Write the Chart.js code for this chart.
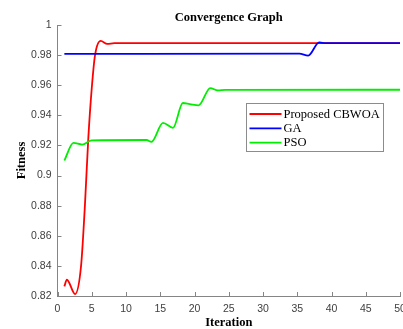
<!DOCTYPE html>
<html>
<head>
<meta charset="utf-8">
<script src="https://cdn.jsdelivr.net/npm/chart.js@4.4.1/dist/chart.umd.min.js"></script>
<style>
  html, body { margin: 0; padding: 0; background: #fff; }
  #wrap { width: 403px; height: 329px; }
</style>
</head>
<body>
<div id="wrap"><canvas id="convChart" width="403" height="329"></canvas></div>
<script>
// values (iteration, fitness)
const seriesNames = ["Proposed CBWOA", "GA", "PSO"];
const seriesColors = ["#ff0000", "#0000ff", "#00ee00"];

const cbwoaIter = [1, 1.37, 2.57, 3.44, 4.0, 4.5, 5.0, 5.48, 6.31, 7.27, 8.3, 50];
const cbwoaFit = [0.8264, 0.8308, 0.8213, 0.840, 0.880, 0.925, 0.958, 0.980, 0.9894, 0.9874, 0.9879, 0.9879];

const gaIter = [1, 35.3, 36.6, 38.2, 39.2, 50];
const gaFit = [0.9808, 0.9810, 0.9797, 0.9884, 0.9879, 0.9879];

const psoIter = [1, 2.33, 3.6, 5.0, 13.0, 13.72, 15.4, 16.86, 18.3, 19.3, 20.6, 22.3, 23.4, 24.5, 50];
const psoFit = [0.910, 0.9217, 0.9206, 0.9234, 0.9236, 0.9224, 0.935, 0.9317, 0.9482, 0.9475, 0.9466, 0.9581, 0.9566, 0.9569, 0.957];

const xTicks = [0, 5, 10, 15, 20, 25, 30, 35, 40, 45, 50];
const yTicks = [0.82, 0.84, 0.86, 0.88, 0.9, 0.92, 0.94, 0.96, 0.98, 1];

const axisColor = "#858585";
const labelColor = "#404040";

function toPoints(xs, ys) {
  return xs.map((x, i) => ({ x: x, y: ys[i] }));
}

// MATLAB style ticks pointing into the plot
const inwardTicks = {
  id: "inwardTicks",
  afterDraw(chart) {
    const { ctx, chartArea, scales } = chart;
    ctx.save();
    ctx.strokeStyle = axisColor;
    ctx.lineWidth = 1;
    ctx.beginPath();
    xTicks.forEach((v) => {
      let px = Math.round(scales.x.getPixelForValue(v)) + 0.5;
      ctx.moveTo(px, chartArea.bottom);
      ctx.lineTo(px, chartArea.bottom - 4);
    });
    yTicks.forEach((v) => {
      let py = Math.round(scales.y.getPixelForValue(v)) + 0.5;
      ctx.moveTo(chartArea.left, py);
      ctx.lineTo(chartArea.left + 4, py);
    });
    ctx.stroke();
    ctx.restore();
  },
};

// boxed legend inside the plot
const boxLegend = {
  id: "boxLegend",
  afterDraw(chart) {
    const ctx = chart.ctx;
    const left = 246.5, top = 103.5, w = 137, h = 48;
    ctx.save();
    ctx.fillStyle = "#ffffff";
    ctx.fillRect(left, top, w, h);
    ctx.strokeStyle = "#8c8c8c";
    ctx.lineWidth = 1;
    ctx.strokeRect(left, top, w, h);
    ctx.font = "12.5px 'Liberation Serif', 'Times New Roman', serif";
    ctx.textBaseline = "middle";
    seriesNames.forEach((name, i) => {
      let y = top + 10.5 + i * 14.3;
      ctx.strokeStyle = seriesColors[i];
      ctx.lineWidth = 1.8;
      ctx.beginPath();
      ctx.moveTo(left + 3, y);
      ctx.lineTo(left + 35, y);
      ctx.stroke();
      ctx.fillStyle = "#000";
      ctx.fillText(name, left + 37, y + 0.5);
    });
    ctx.restore();
  },
};

const ctx = document.getElementById("convChart").getContext("2d");

const chart = new Chart(ctx, {
  type: "line",
  data: {
    datasets: [
      {
        label: seriesNames[0],
        data: toPoints(cbwoaIter, cbwoaFit),
        borderColor: seriesColors[0],
        order: 3,
      },
      {
        label: seriesNames[1],
        data: toPoints(gaIter, gaFit),
        borderColor: seriesColors[1],
        order: 2,
      },
      {
        label: seriesNames[2],
        data: toPoints(psoIter, psoFit),
        borderColor: seriesColors[2],
        order: 1,
      },
    ],
  },
  options: {
    responsive: false,
    animation: false,
    layout: { padding: 0 },
    elements: {
      point: { radius: 0 },
      line: { borderWidth: 1.8, cubicInterpolationMode: "monotone", fill: false },
    },
    plugins: {
      legend: { display: false },
      tooltip: { enabled: false },
      title: {
        display: true,
        text: "Convergence Graph",
        fullSize: false,
        color: "#000",
        font: { family: "'Liberation Serif', serif", size: 12.5, weight: "bold", lineHeight: 1.2 },
        padding: { top: 10, bottom: 0 },
      },
    },
    scales: {
      x: {
        type: "linear",
        min: 0,
        max: 50,
        afterBuildTicks: (scale) => {
          scale.ticks = xTicks.map((v) => ({ value: v }));
        },
        afterFit: (scale) => {
          scale.height = 33;
          scale.paddingLeft = 0;
          scale.paddingRight = 3;
        },
        grid: { display: true, drawOnChartArea: false, drawTicks: false },
        border: { display: true, color: axisColor, width: 1 },
        ticks: {
          color: labelColor,
          padding: 7,
          maxRotation: 0,
          autoSkip: false,
          font: { family: "'Liberation Sans', Arial, sans-serif", size: 10.5 },
        },
        title: {
          display: true,
          text: "Iteration",
          color: "#000",
          font: { family: "'Liberation Serif', serif", size: 12.5, weight: "bold", lineHeight: 1 },
          padding: { top: 0, bottom: 0 },
        },
      },
      y: {
        type: "linear",
        min: 0.82,
        max: 1,
        afterBuildTicks: (scale) => {
          scale.ticks = yTicks.map((v) => ({ value: v }));
        },
        afterFit: (scale) => {
          scale.width = 57.5;
        },
        grid: { display: true, drawOnChartArea: false, drawTicks: false },
        border: { display: true, color: axisColor, width: 1 },
        ticks: {
          color: labelColor,
          padding: 6,
          autoSkip: false,
          font: { family: "'Liberation Sans', Arial, sans-serif", size: 10.5 },
          callback: (v) => String(parseFloat(Number(v).toFixed(2))),
        },
        title: {
          display: true,
          text: "Fitness",
          color: "#000",
          font: { family: "'Liberation Serif', serif", size: 12.5, weight: "bold", lineHeight: 1 },
          padding: { top: 15.5, bottom: 0 },
        },
      },
    },
  },
  plugins: [inwardTicks, boxLegend],
});
</script>
</body>
</html>
